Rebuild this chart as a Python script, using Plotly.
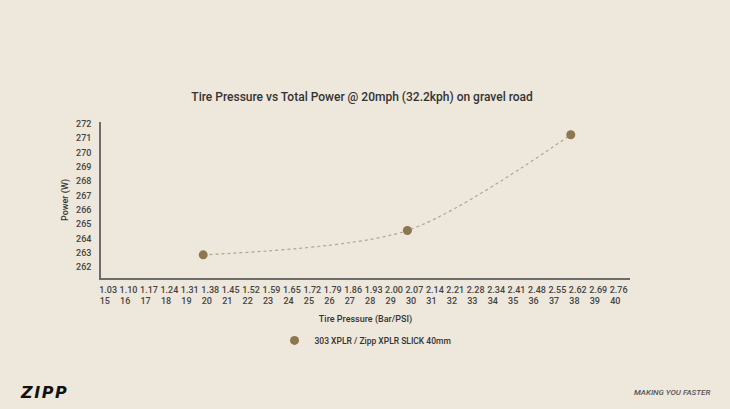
import plotly.graph_objects as go

psi = list(range(15, 41))
bar_labels = ["1.03", "1.10", "1.17", "1.24", "1.31", "1.38", "1.45", "1.52", "1.59", "1.65",
              "1.72", "1.79", "1.86", "1.93", "2.00", "2.07", "2.14", "2.21", "2.28", "2.34",
              "2.41", "2.48", "2.55", "2.62", "2.69", "2.76"]
series_name = "303 XPLR / Zipp XPLR SLICK 40mm"
pressure_psi = [20, 30, 38]
power_w = [262.85, 264.55, 271.25]
y_ticks = list(range(262, 273))

NB = "\u00a0"
tick_text = [f"{b}<br>{p}{NB*3}" for b, p in zip(bar_labels, psi)]

BG = "#EEE7DC"
MARKER = "#8C7750"
LINE = "#B3A68E"
TXT = "#444444"
FONT = "Roboto"

fig = go.Figure()
fig.add_trace(go.Scatter(
    x=pressure_psi, y=power_w, mode="lines",
    line=dict(color=LINE, width=1.2, dash="3px,3px", shape="spline", smoothing=0.8),
    showlegend=False, hoverinfo="skip"))
fig.add_trace(go.Scatter(
    x=pressure_psi, y=power_w, mode="markers", name=series_name,
    marker=dict(color=MARKER, size=9)))

fig.update_layout(
    width=730, height=409,
    paper_bgcolor=BG, plot_bgcolor=BG,
    margin=dict(l=101, r=100, t=122, b=131),
    font=dict(family=FONT, color=TXT, size=9),
    title=dict(text="Tire Pressure vs Total Power @ 20mph (32.2kph) on gravel road",
               x=0.496, xanchor="center", y=0.763, yanchor="middle",
               font=dict(size=12, color="#333333", family=FONT, weight=500)),
    showlegend=True,
    legend=dict(orientation="h", x=0.5, xanchor="center", y=-0.40, yanchor="middle",
                font=dict(size=8.5, color="#333333", weight=500), bgcolor="rgba(0,0,0,0)"),
    xaxis=dict(range=[14.995, 40.9], tickmode="array", tickvals=psi, ticktext=tick_text,
               showgrid=False, zeroline=False, showline=True, linecolor="#6b6b6b",
               linewidth=1.5, ticks="", ticklabelshift=7, ticklabelstandoff=2,
               tickfont=dict(size=9, color=TXT, weight=500),
               title=dict(text="Tire Pressure (Bar/PSI)", standoff=10,
                          font=dict(size=9, color="#333333", weight=500))),
    yaxis=dict(range=[261.23, 272.14], tickmode="array", tickvals=y_ticks,
               showgrid=False, zeroline=False, showline=True, linecolor="#6b6b6b",
               linewidth=1.5, ticks="", ticklabelstandoff=6,
               tickfont=dict(size=9, color=TXT, weight=500),
               title=dict(text="Power (W)", standoff=6,
                          font=dict(size=9, color="#333333", weight=500))),
)

fig.add_annotation(text="<b><i>Z\u200aI\u200aP\u200aP</i></b>", xref="paper", yref="paper",
                   x=-0.157, y=-0.737, xanchor="left", yanchor="middle", showarrow=False,
                   font=dict(size=16, color="#111111", family="DejaVu Sans"))
fig.add_annotation(text="<i>MAKING YOU FASTER</i>", xref="paper", yref="paper",
                   x=1.155, y=-0.737, xanchor="right", yanchor="middle", showarrow=False,
                   font=dict(size=8, color="#555555", family=FONT, weight=500))

fig.write_html("out.html", config={"displayModeBar": False},
               post_script="document.body.style.margin='0';document.body.style.background='#EEE7DC';")
